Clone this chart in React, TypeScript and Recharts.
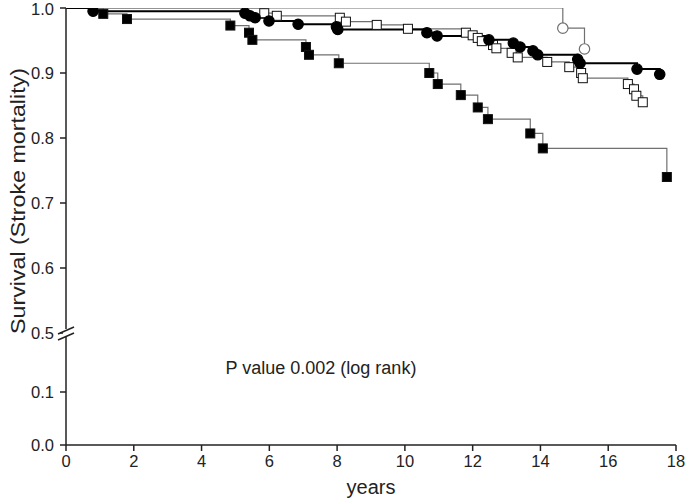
import { ComposedChart, Line, XAxis, YAxis } from "recharts";

// Kaplan-Meier steps: time (years) and survival after each event
const filledCircleTimes = [0, 0.8, 5.28, 5.43, 5.58, 5.99, 6.85, 7.98, 8.02, 10.65, 10.95, 12.48, 13.2, 13.4, 13.78, 13.92, 15.1, 15.17, 16.85, 17.52];
const filledCircleSurv = [1, 0.995, 0.992, 0.988, 0.985, 0.98, 0.975, 0.971, 0.967, 0.962, 0.957, 0.951, 0.946, 0.94, 0.934, 0.928, 0.921, 0.915, 0.906, 0.898];

const openSquareTimes = [0, 5.85, 6.22, 8.08, 8.26, 9.17, 10.09, 11.8, 12.0, 12.15, 12.27, 12.6, 12.7, 13.15, 13.33, 14.2, 14.85, 15.2, 15.25, 16.58, 16.76, 16.83, 17.02];
const openSquareSurv = [1, 0.992, 0.988, 0.985, 0.979, 0.974, 0.968, 0.962, 0.958, 0.954, 0.949, 0.943, 0.938, 0.931, 0.924, 0.917, 0.909, 0.9, 0.892, 0.883, 0.875, 0.865, 0.855];

const filledSquareTimes = [0, 1.1, 1.8, 4.85, 5.4, 5.5, 7.08, 7.17, 8.05, 10.72, 10.97, 11.65, 12.15, 12.45, 13.7, 14.07, 17.73];
const filledSquareSurv = [1, 0.991, 0.983, 0.973, 0.962, 0.951, 0.94, 0.928, 0.915, 0.9, 0.883, 0.866, 0.847, 0.829, 0.807, 0.784, 0.74];

const openCircleTimes = [0, 14.66, 15.3];
const openCircleSurv = [1, 0.969, 0.937];

const xTicks = [0, 2, 4, 6, 8, 10, 12, 14, 16, 18];
const yTickValues = [0, 0.1, 0.5, 0.6, 0.7, 0.8, 0.9, 1.0];

const FONT = "'Liberation Sans', Arial, sans-serif";
const AXIS = "#222";
const GREY = "#707070";

// broken axis: 0-0.1 and 0.5-1.0 drawn at different scales
function toPlot(v: number) {
  if (v >= 0.5) return 112 + (v - 0.5) * 650;
  if (v <= 0.1) return v * 530;
  return 53 + ((v - 0.1) / 0.4) * 59;
}

function rows(times: number[], surv: number[]) {
  return times.map((t, i) => ({ x: t, y: toPlot(surv[i]) }));
}

const yTicks = yTickValues.map(toPlot);
const yLabel = (p: number) => {
  const i = yTicks.findIndex((t) => Math.abs(t - p) < 0.01);
  return i >= 0 ? yTickValues[i].toFixed(1) : "";
};

const squareDot = (fill: string) => (props: any) => {
  const { cx, cy, index } = props;
  if (index === 0 || cx == null) return <g key={`sq${fill}${index}`} />;
  return <rect key={`sq${fill}${index}`} x={cx - 4.5} y={cy - 4.5} width={9} height={9} fill={fill} stroke="#111" strokeWidth={1} />;
};

const circleDot = (fill: string) => (props: any) => {
  const { cx, cy, index } = props;
  if (index === 0 || cx == null) return <g key={`c${fill}${index}`} />;
  return <circle key={`c${fill}${index}`} cx={cx} cy={cy} r={5.2} fill={fill} stroke={fill === "#fff" ? GREY : "#000"} strokeWidth={1.2} />;
};

const YTick = (props: any) => {
  const { x, y, payload } = props;
  const label = yLabel(payload.value);
  const ax = x + 12;
  return (
    <g>
      <text x={x} y={y} dy={5.5} textAnchor="end" fill="#222" fontSize={16.5} fontFamily={FONT}>
        {label}
      </text>
      {label === "0.5" && (
        <g>
          <rect x={ax - 3} y={y - 4} width={6} height={8} fill="#fff" />
          <line x1={ax - 8} y1={y + 1} x2={ax + 8} y2={y - 6} stroke={AXIS} strokeWidth={1.5} />
          <line x1={ax - 8} y1={y + 7} x2={ax + 8} y2={y} stroke={AXIS} strokeWidth={1.5} />
        </g>
      )}
    </g>
  );
};

export default function App() {
  return (
    <div style={{ position: "absolute", left: 0, top: 0, width: 685, height: 498, background: "#fff" }}>
      <ComposedChart width={685} height={498} margin={{ top: 8, right: 9, left: 0, bottom: 0 }}>
        <XAxis
          type="number"
          dataKey="x"
          domain={[0, 18]}
          ticks={xTicks}
          allowDataOverflow
          height={53}
          tickSize={6}
          tickMargin={4}
          stroke={AXIS}
          strokeWidth={1.5}
          tick={{ fill: "#222", fontSize: 16.5, fontFamily: FONT }}
        />
        <XAxis xAxisId="top" orientation="top" type="number" domain={[0, 18]} height={0} tick={false} tickLine={false} stroke={AXIS} strokeWidth={1.5} />
        <YAxis
          type="number"
          domain={[0, 437]}
          ticks={yTicks}
          allowDataOverflow
          width={66}
          tickSize={6}
          tickMargin={6}
          stroke={AXIS}
          strokeWidth={1.5}
          tick={<YTick />}
        />
        <YAxis yAxisId="right" orientation="right" type="number" domain={[0, 437]} width={0} tick={false} tickLine={false} stroke={AXIS} strokeWidth={1.5} />
        <Line data={rows(openCircleTimes, openCircleSurv)} dataKey="y" type="stepAfter" stroke={GREY} strokeWidth={1.2} dot={circleDot("#fff")} isAnimationActive={false} />
        <Line data={rows(filledSquareTimes, filledSquareSurv)} dataKey="y" type="stepAfter" stroke={GREY} strokeWidth={1.2} dot={squareDot("#000")} isAnimationActive={false} />
        <Line data={rows(openSquareTimes, openSquareSurv)} dataKey="y" type="stepAfter" stroke={GREY} strokeWidth={1.2} dot={squareDot("#fff")} isAnimationActive={false} />
        <Line data={rows(filledCircleTimes, filledCircleSurv)} dataKey="y" type="stepAfter" stroke="#000" strokeWidth={2} dot={circleDot("#000")} isAnimationActive={false} />
      </ComposedChart>
      <svg width={685} height={498} style={{ position: "absolute", left: 0, top: 0, pointerEvents: "none" }}>
        <text x={371} y={494} textAnchor="middle" fontSize={20} fontFamily={FONT} fill="#222">
          years
        </text>
        <text transform="translate(25,201) rotate(-90)" textAnchor="middle" fontSize={21} textLength={266} lengthAdjust="spacingAndGlyphs" fontFamily={FONT} fill="#222">
          Survival (Stroke mortality)
        </text>
        <text x={321} y={374} textAnchor="middle" fontSize={18} fontFamily={FONT} fill="#222">
          P value 0.002 (log rank)
        </text>
      </svg>
    </div>
  );
}
